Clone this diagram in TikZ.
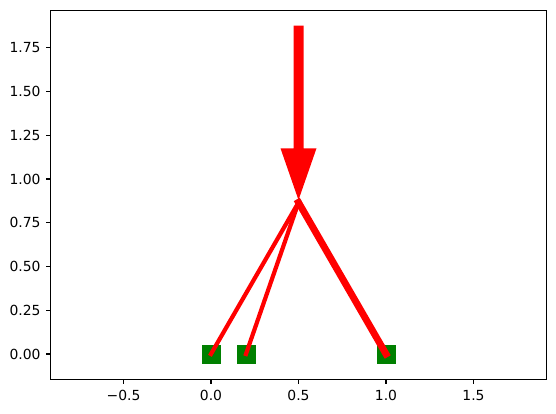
\documentclass[tikz,border=0pt]{standalone}
\usepackage{fontspec}
\setmainfont{DejaVu Sans}
\definecolor{mplgreen}{HTML}{008000}
\definecolor{mplred}{HTML}{FF0000}
\definecolor{mplblue}{HTML}{1F77B4}
\tikzset{
  sq/.style={rectangle, fill=mplgreen, draw=mplgreen, minimum size=18pt, inner sep=0pt},
  pt/.style={circle, fill=mplblue, minimum size=7pt, inner sep=0pt},
  edgethin/.style={draw=mplred, line width=4.2pt, line cap=rect},
  edgethick/.style={draw=mplred, line width=6.9pt, line cap=rect},
  frame/.style={line width=1.1pt},
  tick/.style={line width=1.1pt},
  ticklab/.style={font=\fontsize{13.9}{16}\selectfont, inner sep=0pt}
}
\begin{document}
\begin{tikzpicture}[x=1pt,y=1pt]
\useasboundingbox (-211,-59) rectangle (345,354);
% data points
\node[sq] (p0) at (0,0) {};
\node[sq] (p1) at (35,0) {};
\node[sq] (p2) at (175,0) {};
\node[pt] (apex) at (87.5,151.55) {};
\coordinate (tail) at (87.5,328.3);
\coordinate (tip) at (87.5,154);
% edges
\draw[edgethin] (apex.center) -- (p0.center);
\draw[edgethin] (apex.center) -- (p1.center);
\draw[edgethick] (apex.center) -- (p2.center);
% big arrow
\fill[mplred] ([xshift=-5pt]tail) -- ([xshift=5pt]tail) -- (92.5,205.7) -- (105.5,205.7)
  -- (tip) -- (69.5,205.7) -- (82.5,205.7) -- cycle;
% axes frame
\draw[frame] (-160.5,-25.5) rectangle (335.5,343.5);
% x ticks
\foreach \v/\l in {-87.5/−0.5, 0/0.0, 87.5/0.5, 175/1.0, 262.5/1.5} {
  \draw[tick] (\v,-25.5) -- (\v,-30.4);
  \node[ticklab, anchor=base] at (\v,-46) {\l};
}
% y ticks
\foreach \v/\l in {0/0.00, 43.75/0.25, 87.5/0.50, 131.25/0.75, 175/1.00, 218.75/1.25, 262.5/1.50, 306.25/1.75} {
  \draw[tick] (-160.5,\v) -- (-165.4,\v);
  \node[ticklab, anchor=base east] at (-170.3,\v-5) {\l};
}
\end{tikzpicture}
\end{document}
